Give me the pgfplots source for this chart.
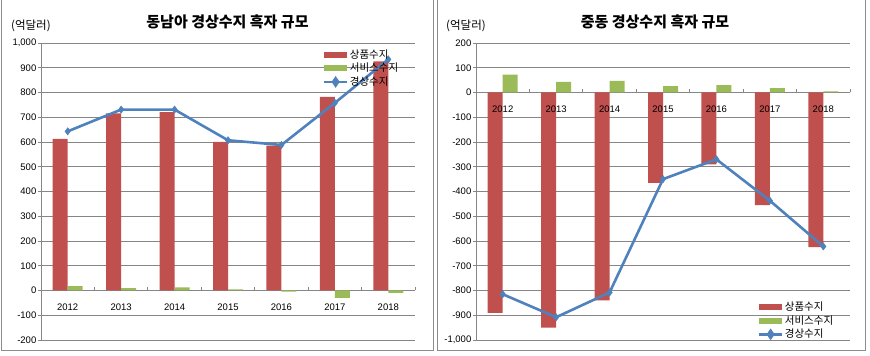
\documentclass[border=0pt]{standalone}
\usepackage{pgfplots}
\pgfplotsset{compat=1.18}
\usepackage{fontspec}
\setmainfont{Liberation Sans}
\newfontfamily\kr{Noto Sans CJK KR}
\definecolor{cred}{HTML}{C0504D}
\definecolor{cgreen}{HTML}{9BBB59}
\definecolor{cblue}{HTML}{4F81BD}
\definecolor{cgrid}{HTML}{868686}
\definecolor{cframe}{HTML}{8C8C8C}

\pgfplotstableread{
x goods services current
2012 613 18 643
2013 716 10 731
2014 721 13 731
2015 600 5 607
2016 585 -5 588
2017 782 -30 758
2018 926 -10 934
}\sea

\pgfplotstableread{
x goods services current
2012 -890 72 -815
2013 -950 43 -908
2014 -840 47 -808
2015 -365 26 -350
2016 -290 30 -270
2017 -455 18 -437
2018 -625 5 -622
}\mideast

\pgfplotsset{
 basestyle/.style={
  scale only axis, width=374bp, height=297bp,
  xmin=2011.5, xmax=2018.5,
  scaled y ticks=false, scaled x ticks=false,
  /pgf/number format/assume math mode=true,
  /pgf/number format/1000 sep={,},
  tick label style={font=\fontsize{9.5bp}{11bp}\selectfont, text=black},
  clip=false,
 },
 mystyle/.style={
  basestyle,
  axis x line=middle, axis y line=left,
  axis line style={-, cgrid, line width=0.8bp},
  hide obscured x ticks=false, hide obscured y ticks=false,
  xtick={2012,2013,2014,2015,2016,2017,2018},
  xticklabels={},
  minor xtick={2011.5,2012.5,2013.5,2014.5,2015.5,2016.5,2017.5,2018.5},
  major x tick style={draw=none},
  minor x tick style={cgrid, line width=0.8bp},
  minor tick length=3bp,
  y tick style={cgrid, line width=0.8bp},
  major tick length=3.5bp,
  ytick align=outside,
  xtick align=inside,
  ymajorgrids, grid style={cgrid, line width=0.8bp},
  yticklabel style={inner sep=1bp},
  legend cell align=left,
  legend style={draw=none, fill=none, anchor=north west,
    font=\kr\fontsize{10.5bp}{12bp}\selectfont,
    nodes={inner sep=1.5bp, text height=8.5bp, text depth=2bp},
    row sep=0bp,
    /tikz/every even column/.append style={column sep=2bp}},
 },
 labelstyle/.style={
  basestyle,
  axis x line=middle, axis y line=none,
  axis line style={draw=none},
  hide obscured x ticks=false,
  xtick={2012,2013,2014,2015,2016,2017,2018},
  major x tick style={draw=none},
  xticklabel style={inner sep=1bp, yshift=-10bp, /pgf/number format/1000 sep={}},
 },
 goodsstyle/.style={ybar, bar width=15bp, bar shift=-7.5bp, fill=cred, draw=none,
   legend image code/.code={\fill[cred] (0bp,-3bp) rectangle (23bp,3bp);}},
 servstyle/.style={ybar, bar width=15bp, bar shift=7.5bp, fill=cgreen, draw=none,
   legend image code/.code={\fill[cgreen] (0bp,-3bp) rectangle (23bp,3bp);}},
 curstyle/.style={cblue, line width=2.6bp, mark=diamond*, mark size=3.6bp,
   mark options={cblue, line width=0.5bp},
   legend image code/.code={\draw[cblue, line width=2.6bp] (0bp,0bp)--(23bp,0bp);
     \fill[cblue] (11.5bp,3.6bp)--(14bp,0bp)--(11.5bp,-3.6bp)--(9bp,0bp)--cycle;}},
}

\begin{document}
\begin{tikzpicture}
\useasboundingbox (0,0) rectangle (870bp,356bp);
\draw[cframe, line width=0.9bp] (1.5bp,6bp) rectangle (433bp,370bp);
\draw[cframe, line width=0.9bp] (437bp,6bp) rectangle (865.5bp,370bp);

\node[font=\kr\bfseries\fontsize{15bp}{18bp}\selectfont] at (227.5bp,334bp) {동남아 경상수지 흑자 규모};
\node[font=\kr\fontsize{11.5bp}{13bp}\selectfont, anchor=west, inner sep=0pt] at (11bp,330bp) {(억달러)};
\node[font=\kr\bfseries\fontsize{15bp}{18bp}\selectfont] at (655bp,334bp) {중동 경상수지 흑자 규모};
\node[font=\kr\fontsize{11.5bp}{13bp}\selectfont, anchor=west, inner sep=0pt] at (446bp,330bp) {(억달러)};

\begin{axis}[mystyle, at={(41bp,16bp)}, anchor=south west,
  ymin=-200, ymax=1000, ytick={-200,-100,...,1000},
  legend style={at={(axis description cs:0.745,0.99)}}]
\addplot[goodsstyle] table[x=x, y=goods] {\sea};
\addlegendentry{상품수지}
\addplot[servstyle] table[x=x, y=services] {\sea};
\addlegendentry{서비스수지}
\addplot[curstyle] table[x=x, y=current] {\sea};
\addlegendentry{경상수지}
\end{axis}
\begin{axis}[labelstyle, at={(41bp,16bp)}, anchor=south west,
  ymin=-200, ymax=1000]
\end{axis}

\begin{axis}[mystyle, at={(476bp,16bp)}, anchor=south west,
  ymin=-1000, ymax=200, ytick={-1000,-900,...,200},
  legend style={at={(axis description cs:0.745,0.14)}}]
\addplot[goodsstyle] table[x=x, y=goods] {\mideast};
\addlegendentry{상품수지}
\addplot[servstyle] table[x=x, y=services] {\mideast};
\addlegendentry{서비스수지}
\addplot[curstyle] table[x=x, y=current] {\mideast};
\addlegendentry{경상수지}
\end{axis}
\begin{axis}[labelstyle, at={(476bp,16bp)}, anchor=south west,
  ymin=-1000, ymax=200]
\end{axis}
\end{tikzpicture}
\end{document}
